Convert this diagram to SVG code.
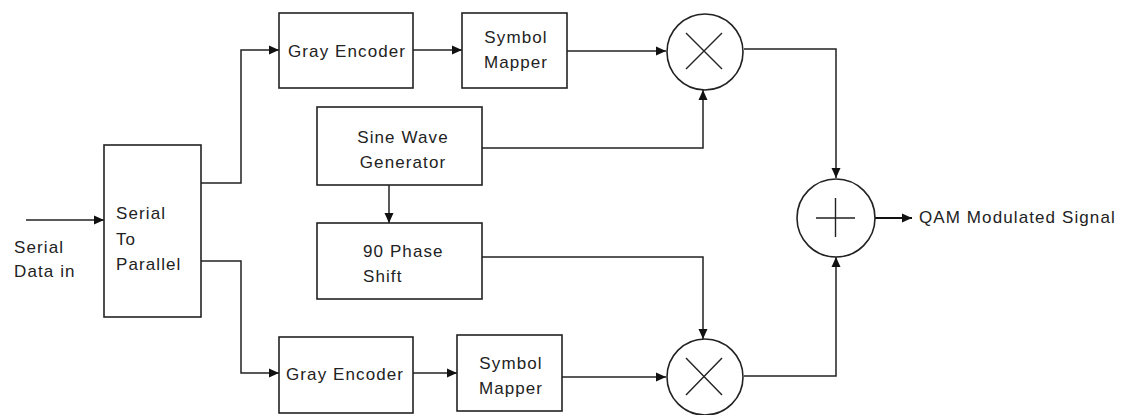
<svg xmlns="http://www.w3.org/2000/svg" width="1121" height="415" viewBox="0 0 1121 415">
<style>
.box{fill:#fff;stroke:#222;stroke-width:1.6}
.circ{fill:#fff;stroke:#222;stroke-width:1.6}
.sym{stroke:#222;stroke-width:1.4;fill:none}
.wire{fill:none;stroke:#222;stroke-width:1.5}
.thick{fill:none;stroke:#111;stroke-width:2.2}
text{font-family:"Liberation Sans",Arial,sans-serif;font-size:17px;fill:#222;letter-spacing:1.1px}
.c{text-anchor:middle}
</style>
<defs>
<marker id="ah" viewBox="0 0 10 10" refX="10" refY="5" markerWidth="10" markerHeight="10" markerUnits="userSpaceOnUse" orient="auto">
<path d="M0,0.5 L10,5 L0,9.5 Z" fill="#111"/>
</marker>
</defs>
<g id="connectors">
<line class="wire" x1="26" y1="220" x2="104" y2="220" marker-end="url(#ah)"/>
<polyline class="wire" points="201,183 241,183 241,50 279,50" marker-end="url(#ah)"/>
<polyline class="wire" points="201,261 241,261 241,373 279,373" marker-end="url(#ah)"/>
<line class="wire" x1="413" y1="50" x2="462" y2="50" marker-end="url(#ah)"/>
<line class="wire" x1="413" y1="373" x2="457" y2="373" marker-end="url(#ah)"/>
<line class="wire" x1="567" y1="51" x2="666" y2="51" marker-end="url(#ah)"/>
<line class="wire" x1="562" y1="377" x2="666" y2="377" marker-end="url(#ah)"/>
<polyline class="wire" points="482,148 703,148 703,90" marker-end="url(#ah)"/>
<line class="wire" x1="389" y1="185" x2="389" y2="223" marker-end="url(#ah)"/>
<polyline class="wire" points="482,257 703,257 703,339" marker-end="url(#ah)"/>
<polyline class="wire" points="744,49 836,49 836,178" marker-end="url(#ah)"/>
<polyline class="wire" points="744,376 836,376 836,257" marker-end="url(#ah)"/>
<line class="thick" x1="875" y1="218" x2="912" y2="218" marker-end="url(#ah)"/>
</g>
<g id="input-label">
<text x="14" y="253">Serial</text>
<text x="14" y="277">Data in</text>
</g>
<g id="serial-to-parallel">
<rect class="box" x="104" y="145" width="97" height="172"/>
<text x="116" y="219">Serial</text>
<text x="116" y="245">To</text>
<text x="116" y="270">Parallel</text>
</g>
<g id="gray-encoder-top">
<rect class="box" x="279" y="13" width="134" height="75"/>
<text x="288" y="57">Gray Encoder</text>
</g>
<g id="symbol-mapper-top">
<rect class="box" x="462" y="13" width="105" height="75"/>
<text class="c" x="516" y="43">Symbol</text>
<text class="c" x="516" y="68">Mapper</text>
</g>
<g id="sine-wave-generator">
<rect class="box" x="317" y="107" width="165" height="78"/>
<text class="c" x="403" y="143">Sine Wave</text>
<text class="c" x="403" y="168">Generator</text>
</g>
<g id="phase-shift">
<rect class="box" x="317" y="223" width="165" height="76"/>
<text x="363" y="257">90 Phase</text>
<text x="363" y="282">Shift</text>
</g>
<g id="gray-encoder-bottom">
<rect class="box" x="279" y="337" width="134" height="76"/>
<text x="286" y="380">Gray Encoder</text>
</g>
<g id="symbol-mapper-bottom">
<rect class="box" x="457" y="335" width="105" height="76"/>
<text class="c" x="511" y="369">Symbol</text>
<text class="c" x="511" y="394">Mapper</text>
</g>
<g id="multiplier-top">
<circle class="circ" cx="705" cy="52" r="38"/>
<path class="sym" d="M686,33 L722,69 M722,33 L686,69"/>
</g>
<g id="multiplier-bottom">
<circle class="circ" cx="705" cy="377" r="38"/>
<path class="sym" d="M686,358 L722,395 M722,358 L686,395"/>
</g>
<g id="adder">
<circle class="circ" cx="836" cy="218" r="39"/>
<path class="sym" d="M816,218 L855,218 M835.5,198 L835.5,237"/>
</g>
<g id="output-label">
<text x="919" y="223">QAM Modulated Signal</text>
</g>
</svg>
